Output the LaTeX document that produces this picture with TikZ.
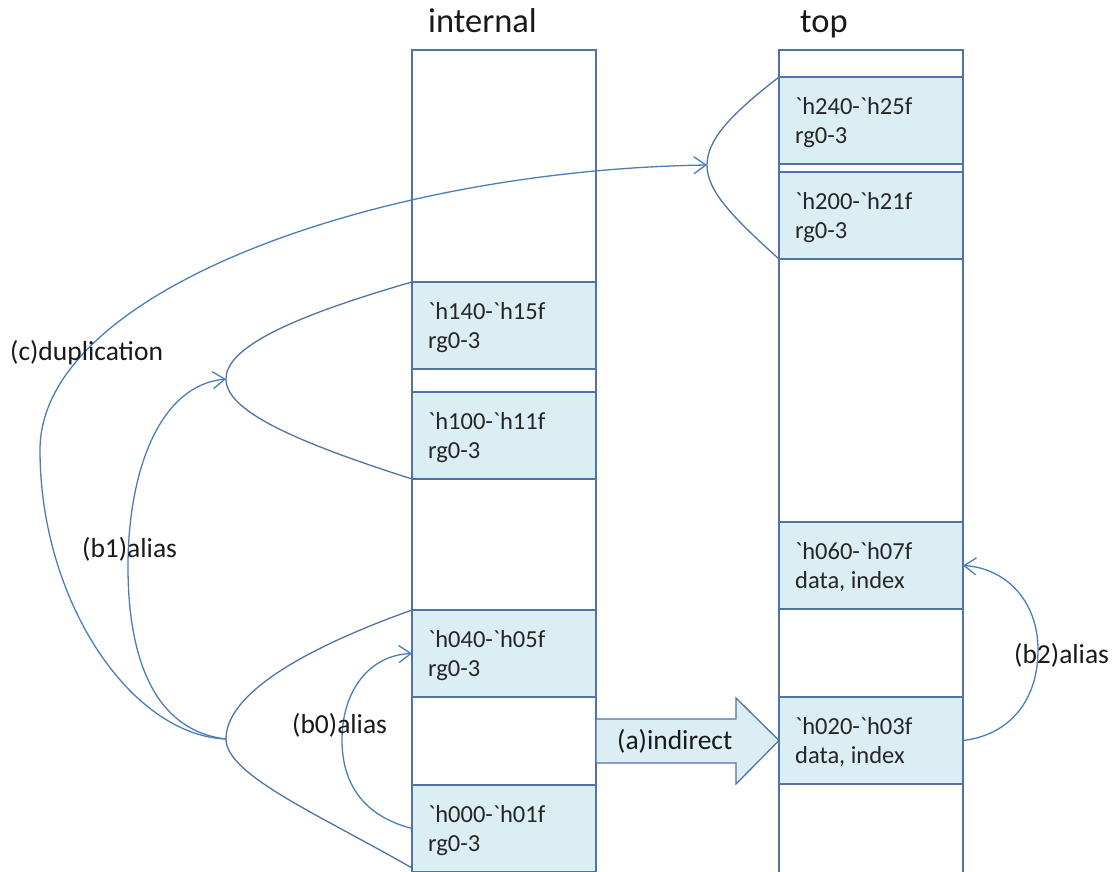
\documentclass[tikz,border=0pt]{standalone}
\usepackage{fontspec}
\setmainfont{Carlito}
\usetikzlibrary{arrows.meta}
\definecolor{blkfill}{HTML}{DBEEF4}
\definecolor{bord}{HTML}{5073A6}
\definecolor{conn}{HTML}{4A7EBB}
\newcommand{\gv}{\textasciigrave}
\tikzset{
  colbox/.style={draw=bord, line width=1.3pt, fill=white, minimum width=184pt, minimum height=840pt, anchor=north west, inner sep=0, outer sep=0},
  blk/.style={draw=bord, line width=1.3pt, fill=blkfill, minimum width=184pt, minimum height=87pt, anchor=north west, inner sep=0, outer sep=0},
  btxt/.style={anchor=base west, inner sep=0, text=black!85, font=\fontsize{24.5}{29}\selectfont},
  lbl/.style={anchor=base west, inner sep=0, text=black!90, font=\fontsize{27.5}{33}\selectfont},
  ttl/.style={anchor=base west, inner sep=0, text=black!90, font=\fontsize{34.5}{40}\selectfont},
  brk/.style={draw=bord, line width=1.3pt},
  conarrow/.style={draw=conn, line width=1.3pt, -{Straight Barb[length=12pt,width=17pt,line width=1.3pt]}},
}
\begin{document}
\begin{tikzpicture}[x=1pt,y=-1pt]
\useasboundingbox (0,0) rectangle (1115,871);
\clip (0,0) rectangle (1115,871);
% titles
\node[ttl] (tint) at (428,32) {internal};
\node[ttl] (ttop) at (800,32) {top};
% columns
\node[colbox] (intcol) at (412,50) {};
\node[colbox] (topcol) at (779,50) {};
% internal blocks
\node[blk] (i140) at (412,282) {};
\node[blk] (i100) at (412,392) {};
\node[blk] (i040) at (412,610) {};
\node[blk] (i000) at (412,785) {};
% top blocks
\node[blk] (t240) at (779,77) {};
\node[blk] (t200) at (779,172) {};
\node[blk] (t060) at (779,522) {};
\node[blk] (t020) at (779,697) {};
% block texts
\node[btxt] (i140a) at ([shift={(16,37)}]i140.north west) {\gv h140-\gv h15f};
\node[btxt] (i140b) at ([shift={(16,66)}]i140.north west) {rg0-3};
\node[btxt] (i100a) at ([shift={(16,37)}]i100.north west) {\gv h100-\gv h11f};
\node[btxt] (i100b) at ([shift={(16,66)}]i100.north west) {rg0-3};
\node[btxt] (i040a) at ([shift={(16,37)}]i040.north west) {\gv h040-\gv h05f};
\node[btxt] (i040b) at ([shift={(16,66)}]i040.north west) {rg0-3};
\node[btxt] (i000a) at ([shift={(16,37)}]i000.north west) {\gv h000-\gv h01f};
\node[btxt] (i000b) at ([shift={(16,66)}]i000.north west) {rg0-3};
\node[btxt] (t240a) at ([shift={(16,37)}]t240.north west) {\gv h240-\gv h25f};
\node[btxt] (t240b) at ([shift={(16,66)}]t240.north west) {rg0-3};
\node[btxt] (t200a) at ([shift={(16,37)}]t200.north west) {\gv h200-\gv h21f};
\node[btxt] (t200b) at ([shift={(16,66)}]t200.north west) {rg0-3};
\node[btxt] (t060a) at ([shift={(16,37)}]t060.north west) {\gv h060-\gv h07f};
\node[btxt] (t060b) at ([shift={(16,66)}]t060.north west) {data, index};
\node[btxt] (t020a) at ([shift={(16,37)}]t020.north west) {\gv h020-\gv h03f};
\node[btxt] (t020b) at ([shift={(16,66)}]t020.north west) {data, index};
% bracket apexes
\coordinate (apTop) at (707,165);
\coordinate (apMid) at (226,379);
\coordinate (apBot) at (226,739);
% brackets
\draw[brk] (t240.north west) .. controls (730,115) and (707,140) .. (apTop)
  .. controls (707,190) and (730,215) .. (t200.south west);
\draw[brk] (i140.north west) .. controls (280,320) and (226,350) .. (apMid)
  .. controls (226,410) and (290,440) .. (i100.south west);
\draw[brk] (i040.north west) .. controls (300,650) and (226,695) .. (apBot)
  .. controls (226,775) and (320,815) .. (412,868);
% (a) indirect block arrow
\path[draw=bord, line width=1.3pt, fill=blkfill] (596,719) -- (736,719) -- (736,698) -- (t020.west) -- (736,784) -- (736,763) -- (596,763) -- cycle;
\node[lbl] (lind) at (617,749) {(a)indirect};
% connectors
\draw[conarrow] (apBot) .. controls (130,735) and (40,600) .. (40,450)
  .. controls (40,290) and (380,170) .. (apTop);
\draw[conarrow] (apBot) .. controls (150,730) and (128,650) .. (128,567)
  .. controls (128,470) and (160,385) .. (apMid);
\draw[conarrow] (i000.west) .. controls (360,815) and (342,780) .. (342,740)
  .. controls (342,690) and (370,655) .. (i040.west);
\draw[conarrow] (t020.east) .. controls (1010,735) and (1038,700) .. (1038,650)
  .. controls (1038,600) and (1005,568) .. (t060.east);
% labels
\node[lbl] (lc) at (10,360) {(c)duplication};
\node[lbl] (lb1) at (82,557) {(b1)alias};
\node[lbl] (lb0) at (292,733) {(b0)alias};
\node[lbl] (lb2) at (1014,663) {(b2)alias};
\end{tikzpicture}
\end{document}
